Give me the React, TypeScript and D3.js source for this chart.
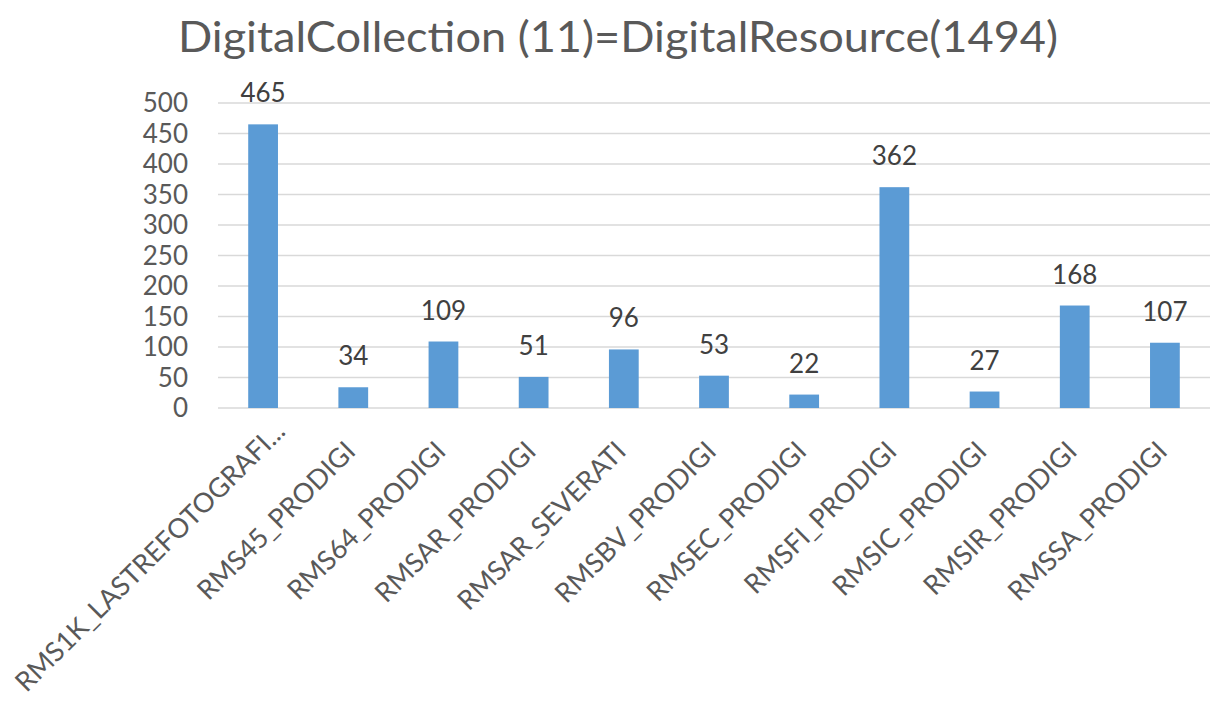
import React, { useEffect, useRef } from 'react'
import * as d3 from 'd3'

const categories = [
  'RMS1K_LASTREFOTOGRAFI...',
  'RMS45_PRODIGI',
  'RMS64_PRODIGI',
  'RMSAR_PRODIGI',
  'RMSAR_SEVERATI',
  'RMSBV_PRODIGI',
  'RMSEC_PRODIGI',
  'RMSFI_PRODIGI',
  'RMSIC_PRODIGI',
  'RMSIR_PRODIGI',
  'RMSSA_PRODIGI',
]
const counts = [465, 34, 109, 51, 96, 53, 22, 362, 27, 168, 107]
const yTicks = [0, 50, 100, 150, 200, 250, 300, 350, 400, 450, 500]
const title = 'DigitalCollection (11)=DigitalResource(1494)'

const width = 1211
const height = 701
const margin = { left: 218, right: 1, top: 103, bottom: 293 }
const font = 'Lato, "Open Sans", sans-serif'

const App = () => {
  const ref = useRef<SVGSVGElement>(null)

  useEffect(() => {
    const svg = d3.select(ref.current)
    svg.selectAll('*').remove()

    const x = d3.scaleBand()
      .domain(categories)
      .range([margin.left, width - margin.right])
      .paddingInner(0.67)
      .paddingOuter(0.335)

    const y = d3.scaleLinear()
      .domain([0, 500])
      .range([height - margin.bottom, margin.top])

    svg.append('text')
      .attr('x', 618)
      .attr('y', 52)
      .attr('text-anchor', 'middle')
      .attr('font-family', font)
      .attr('font-size', 43)
      .attr('textLength', 880)
      .attr('lengthAdjust', 'spacingAndGlyphs')
      .attr('fill', '#595959')
      .text(title)

    // grid
    svg.append('g').selectAll('line').data(yTicks).enter().append('line')
      .attr('x1', margin.left)
      .attr('x2', width - margin.right)
      .attr('y1', d => y(d))
      .attr('y2', d => y(d))
      .attr('stroke', '#d9d9d9')
      .attr('stroke-width', 1.5)

    svg.append('g').selectAll('text').data(yTicks).enter().append('text')
      .attr('x', 188)
      .attr('y', d => y(d))
      .attr('dy', '0.36em')
      .attr('text-anchor', 'end')
      .attr('font-family', font)
      .attr('font-size', 26)
      .attr('fill', '#595959')
      .text(d => d)

    svg.append('g').selectAll('rect').data(counts).enter().append('rect')
      .attr('x', (d, i) => x(categories[i])!)
      .attr('width', x.bandwidth())
      .attr('y', d => y(d))
      .attr('height', d => y(0) - y(d))
      .attr('fill', '#5b9bd5')

    svg.append('g').selectAll('text').data(counts).enter().append('text')
      .attr('x', (d, i) => x(categories[i])! + x.bandwidth() / 2)
      .attr('y', d => y(d) - 22)
      .attr('text-anchor', 'middle')
      .attr('font-family', font)
      .attr('font-size', 26)
      .attr('fill', '#404040')
      .text(d => d)

    const labels = svg.append('g').selectAll('text').data(categories).enter().append('text')
      .attr('transform', d => `translate(${x(d)! + x.bandwidth() / 2 - 3},${y(0) + 38}) rotate(-45)`)
      .attr('text-anchor', 'end')
      .attr('dy', '0.36em')
      .attr('font-family', font)
      .attr('font-size', 27)
      .attr('fill', '#595959')
      .text(d => d)

    // truncated label is squeezed and pushed out a bit, as in the original
    labels.filter(d => d.endsWith('...'))
      .attr('dx', 28)
      .attr('textLength', 368)
      .attr('lengthAdjust', 'spacingAndGlyphs')
  }, [])

  return <svg ref={ref} width={width} height={height} style={{ display: 'block', position: 'absolute', left: 0, top: 0 }} />
}

export default App
